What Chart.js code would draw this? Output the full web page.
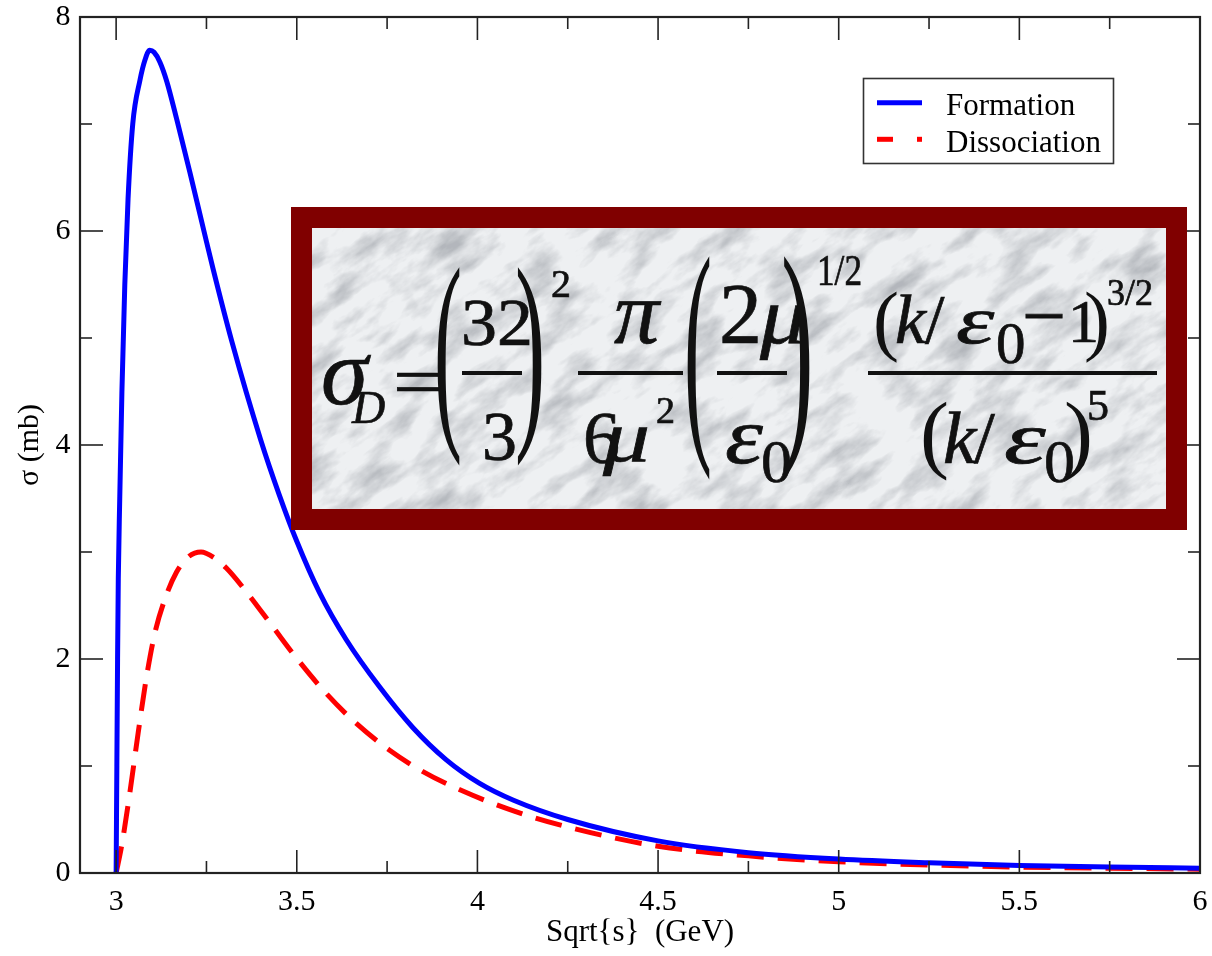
<!DOCTYPE html>
<html><head><meta charset="utf-8">
<script src="https://cdn.jsdelivr.net/npm/chart.js@4.4.0/dist/chart.umd.min.js"></script>
<style>
html,body{margin:0;padding:0;background:#fff;}
#wrap{position:relative;width:1212px;height:956px;overflow:hidden;}
#c{position:absolute;left:0;top:0;}
#ov{position:absolute;left:0;top:0;pointer-events:none;}
#ov text{font-family:"Liberation Serif","Times New Roman",serif;fill:#111;stroke:#111;stroke-width:0.7px;}
#ov text.i{font-style:italic;}
#ov text.p{stroke-width:0;}
</style></head><body>
<div id="wrap">
<canvas id="c" width="1212" height="956"></canvas>
<svg id="ov" width="1212" height="956" xmlns="http://www.w3.org/2000/svg">
<defs>
 <clipPath id="innerClip"><rect x="312" y="228" width="854" height="281"/></clipPath>
 <filter id="marble" x="-5%" y="-5%" width="110%" height="110%">
  <feTurbulence type="fractalNoise" baseFrequency="0.02 0.045" numOctaves="5" seed="11" result="t"/>
  <feColorMatrix in="t" type="matrix" values="0 0 0 0 0.45  0 0 0 0 0.47  0 0 0 0 0.50  2.2 0 0 0 -0.96"/>
 </filter>
</defs>
<rect x="312" y="228" width="854" height="281" fill="#eef0f2"/>
<g clip-path="url(#innerClip)">
 <g transform="rotate(-35 739 368)"><rect x="180" y="-120" width="1120" height="980" fill="#fff" filter="url(#marble)"/></g>
</g>
<rect x="301.5" y="217.5" width="875" height="302" fill="none" stroke="#800000" stroke-width="21"/>

<!-- formula -->
<text class="i" x="321" y="404" font-size="95">σ</text>
<text class="i" x="352" y="423" font-size="46">D</text>
<text transform="translate(393,406) scale(1.25,1)" font-size="72">=</text>
<text class="p" transform="translate(434,419.4) scale(1.2,3.115)" font-size="70">(</text>
<text x="461" y="345" font-size="67" textLength="72" lengthAdjust="spacingAndGlyphs">32</text>
<rect x="462" y="371" width="60" height="4" fill="#111"/>
<text x="482" y="460" font-size="70">3</text>
<text class="p" transform="translate(515,419.4) scale(1.3,3.115)" font-size="70">)</text>
<text x="551" y="297" font-size="40">2</text>

<text class="i" x="614" y="343" font-size="90">π</text>
<rect x="578" y="371" width="105" height="4" fill="#111"/>
<text x="583" y="463" font-size="74">6</text>
<text class="i" transform="translate(603,461) scale(1.3,1)" font-size="72">μ</text>
<text x="656" y="423" font-size="38">2</text>

<text class="p" transform="translate(684,426.6) scale(1.2,3.52)" font-size="70">(</text>
<text x="719" y="343" font-size="86">2</text>
<text class="i" transform="translate(760,343) scale(1.15,1)" font-size="80">μ</text>
<rect x="717" y="371" width="70" height="4" fill="#111"/>
<text class="i" transform="translate(725,463) scale(1.2,1)" font-size="80">ε</text>
<text x="761" y="482" font-size="62">0</text>
<text class="p" transform="translate(781,426.6) scale(1.4,3.52)" font-size="70">)</text>
<text x="817" y="285" font-size="44" textLength="45" lengthAdjust="spacingAndGlyphs">1/2</text>

<text class="p" x="873" y="345.7" font-size="78">(</text>
<text class="i" x="895" y="343" font-size="70">k</text>
<text x="925" y="343" font-size="70">/</text>
<text class="i" transform="translate(956,343) scale(1.45,1)" font-size="67">ε</text>
<text x="996" y="363" font-size="59">0</text>
<text x="1022" y="342" font-size="78">−</text>
<text x="1068" y="342" font-size="62">1</text>
<text class="p" x="1084" y="345.7" font-size="78">)</text>
<text x="1107" y="305" font-size="37" textLength="46" lengthAdjust="spacingAndGlyphs">3/2</text>
<rect x="868" y="371" width="289" height="4" fill="#111"/>
<text class="p" x="920" y="461.8" font-size="87">(</text>
<text class="i" x="943" y="463" font-size="75">k</text>
<text x="974" y="463" font-size="75">/</text>
<text class="i" transform="translate(1004,463) scale(1.45,1)" font-size="73">ε</text>
<text x="1044" y="482" font-size="62">0</text>
<text class="p" x="1064" y="461.8" font-size="87">)</text>
<text x="1087" y="420" font-size="44">5</text>
</svg>
</div>
<script>
// ---- data ----
const SQRT_S_FORMATION = [3.000,3.002,3.004,3.006,3.010,3.016,3.024,3.033,3.046,3.066,3.080,3.093,3.105,3.121,3.140,3.168,3.204,3.243,3.268,3.320,3.400,3.452,3.500,3.563,3.637,3.729,3.821,3.913,4.005,4.100,4.250,4.500,4.750,5.000,5.250,5.500,5.750,6.000];
const SIGMA_FORMATION  = [0,1.0,2.0,2.75,3.5,4.5,5.5,6.3,7.0,7.41,7.60,7.69,7.67,7.58,7.40,7.04,6.55,6.00,5.65,4.97,4.05,3.53,3.10,2.62,2.18,1.74,1.36,1.06,0.84,0.68,0.50,0.30,0.19,0.13,0.095,0.07,0.055,0.045];
const SQRT_S_DISSOCIATION = [3.000,3.015,3.038,3.061,3.084,3.107,3.135,3.167,3.200,3.235,3.270,3.305,3.360,3.434,3.499,3.581,3.664,3.756,3.848,3.950,4.100,4.250,4.500,4.750,5.000,5.250,5.500,5.750,6.000];
const SIGMA_DISSOCIATION  = [0,0.25,0.75,1.31,1.83,2.24,2.56,2.81,2.955,3.0,2.95,2.85,2.63,2.30,2.01,1.68,1.40,1.15,0.95,0.78,0.58,0.43,0.25,0.16,0.105,0.075,0.055,0.045,0.035];
const SERIES_LABELS = ['Formation','Dissociation'];
const X_TICKS = [3,3.5,4,4.5,5,5.5,6];
const X_TICK_LABELS = ['3','3.5','4','4.5','5','5.5','6'];
const X_MINOR_TICKS = [3.25,3.75,4.25,4.75,5.25,5.75];
const Y_TICKS = [0,2,4,6,8];
const Y_TICK_LABELS = ['0','2','4','6','8'];
const Y_MINOR_TICKS = [1,3,5,7];
const X_TITLE = 'Sqrt{s}  (GeV)';
const Y_TITLE = 'σ (mb)';

const SERIF = '"Liberation Serif","Times New Roman",serif';
const AXIS_COLOR = '#222';

const framePlugin = {
  id: 'frame',
  afterDatasetsDraw(chart) {
    const {ctx, chartArea: a, scales: {x, y}} = chart;
    ctx.save();
    ctx.strokeStyle = AXIS_COLOR;
    ctx.lineWidth = 1.6;
    const seg = (x1, y1, x2, y2) => { ctx.beginPath(); ctx.moveTo(x1, y1); ctx.lineTo(x2, y2); ctx.stroke(); };
    const MAJ = 23, MIN = 12;
    X_TICKS.forEach(v => { const p = x.getPixelForValue(v); seg(p, a.bottom, p, a.bottom - MAJ); seg(p, a.top, p, a.top + MAJ); });
    X_MINOR_TICKS.forEach(v => { const p = x.getPixelForValue(v); seg(p, a.bottom, p, a.bottom - MIN); seg(p, a.top, p, a.top + MIN); });
    Y_TICKS.forEach(v => { const p = y.getPixelForValue(v); seg(a.left, p, a.left + MAJ, p); seg(a.right, p, a.right - MAJ, p); });
    Y_MINOR_TICKS.forEach(v => { const p = y.getPixelForValue(v); seg(a.left, p, a.left + MIN, p); seg(a.right, p, a.right - MIN, p); });
    ctx.lineWidth = 2.2;
    ctx.strokeRect(a.left, a.top, a.right - a.left, a.bottom - a.top);
    ctx.restore();
  },
  afterDraw(chart) {
    const ctx = chart.ctx;
    const ds = chart.data.datasets;
    ctx.save();
    const bx = 863.5, by = 78.5, bw = 250, bh = 85;
    ctx.fillStyle = '#fff';
    ctx.fillRect(bx, by, bw, bh);
    ctx.strokeStyle = '#333';
    ctx.lineWidth = 1.6;
    ctx.strokeRect(bx, by, bw, bh);
    const rows = [102.7, 139.3];
    ds.forEach((d, i) => {
      const yy = rows[i];
      ctx.strokeStyle = d.borderColor;
      ctx.lineWidth = 5;
      ctx.lineCap = 'butt';
      if (d.borderDash && d.borderDash.length) {
        ctx.beginPath(); ctx.moveTo(877, yy); ctx.lineTo(893, yy); ctx.stroke();
        ctx.beginPath(); ctx.moveTo(917, yy); ctx.lineTo(922, yy); ctx.stroke();
      } else {
        ctx.beginPath(); ctx.moveTo(877, yy); ctx.lineTo(922, yy); ctx.stroke();
      }
      ctx.fillStyle = '#000';
      ctx.font = '31px ' + SERIF;
      ctx.textBaseline = 'alphabetic';
      ctx.textAlign = 'left';
      ctx.fillText(d.label, 946, yy + 12.5);
    });
    ctx.restore();
  }
};

const toPoints = (xs, ys) => xs.map((v, i) => ({x: v, y: ys[i]}));

new Chart(document.getElementById('c'), {
  type: 'line',
  data: {
    datasets: [
      { label: SERIES_LABELS[0], data: toPoints(SQRT_S_FORMATION, SIGMA_FORMATION),
        borderColor: '#0000ff', borderWidth: 5, pointRadius: 0, fill: false,
        cubicInterpolationMode: 'monotone' },
      { label: SERIES_LABELS[1], data: toPoints(SQRT_S_DISSOCIATION, SIGMA_DISSOCIATION),
        borderColor: '#ff0000', borderWidth: 5, borderDash: [27, 14], pointRadius: 0, fill: false,
        cubicInterpolationMode: 'monotone' }
    ]
  },
  options: {
    responsive: false,
    animation: false,
    layout: { padding: { top: 17, right: 12, left: 0, bottom: 0 } },
    plugins: { legend: { display: false }, tooltip: { enabled: false } },
    scales: {
      x: {
        type: 'linear', min: 2.9, max: 6,
        afterBuildTicks: s => { s.ticks = X_TICKS.map(v => ({ value: v })); },
        afterFit: s => { s.height = 83; s.paddingLeft = 0; s.paddingRight = 0; },
        grid: { display: false, drawTicks: false },
        border: { display: false },
        ticks: { font: { family: SERIF, size: 30 }, color: '#000', padding: 11, maxRotation: 0, autoSkip: false,
                 callback: (v, i) => X_TICK_LABELS[i] },
        title: { display: true, text: X_TITLE, font: { family: SERIF, size: 31 }, color: '#000', padding: { top: 0, bottom: 5 } }
      },
      y: {
        type: 'linear', min: 0, max: 8,
        afterBuildTicks: s => { s.ticks = Y_TICKS.map(v => ({ value: v })); },
        afterFit: s => { s.width = 80; s.paddingTop = 0; s.paddingBottom = 0; },
        grid: { display: false, drawTicks: false },
        border: { display: false },
        ticks: { font: { family: SERIF, size: 30 }, color: '#000', padding: 9.5, autoSkip: false,
                 callback: (v, i) => Y_TICK_LABELS[i] },
        title: { display: true, text: Y_TITLE, font: { family: SERIF, size: 30 }, color: '#000', padding: { top: 12, bottom: 0 } }
      }
    }
  },
  plugins: [framePlugin]
});
</script>
</body></html>
